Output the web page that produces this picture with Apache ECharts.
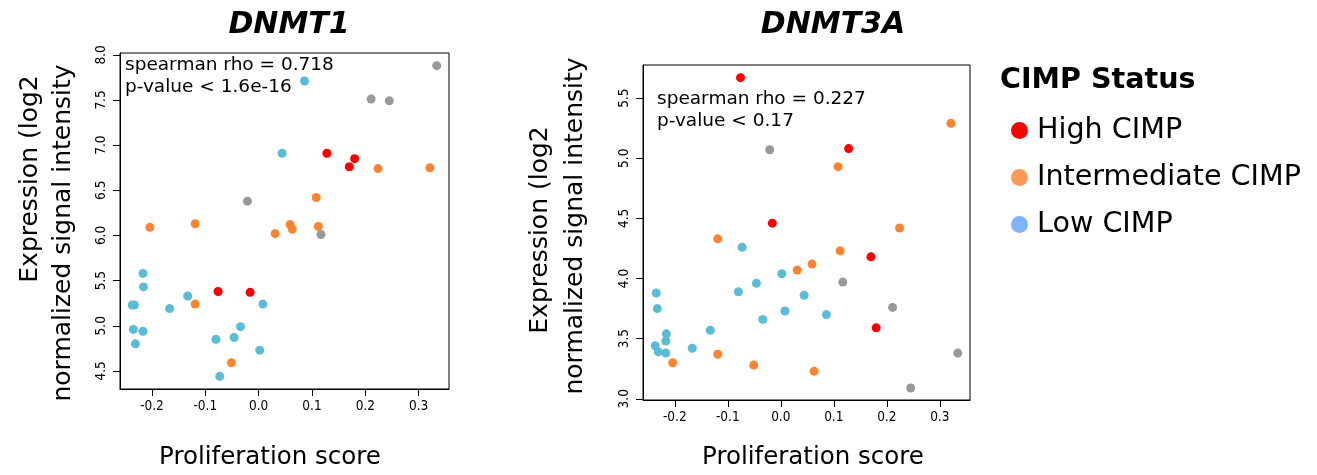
<!DOCTYPE html>
<html>
<head>
<meta charset="utf-8">
<script src="https://cdn.jsdelivr.net/npm/echarts@6/dist/echarts.min.js"></script>
<style>html,body{margin:0;padding:0;background:#fff;}#chart{width:1317px;height:475px;}</style>
</head>
<body>
<div id="chart"></div>
<script>
// ---- data ----
const panelTitles = ['DNMT1', 'DNMT3A'];
const statsDNMT1 = ['spearman rho = 0.718', 'p-value < 1.6e-16'];
const statsDNMT3A = ['spearman rho = 0.227', 'p-value < 0.17'];
const xTicks = [-0.2, -0.1, 0.0, 0.1, 0.2, 0.3];
const yTicksDNMT1 = [4.5, 5.0, 5.5, 6.0, 6.5, 7.0, 7.5, 8.0];
const yTicksDNMT3A = [3.0, 3.5, 4.0, 4.5, 5.0, 5.5];
const groupNames = ['High CIMP', 'Intermediate CIMP', 'Low CIMP'];

const highX      = [-0.076, -0.016, 0.128, 0.170, 0.180];
const highDNMT1  = [5.38, 5.37, 6.91, 6.76, 6.85];
const highDNMT3A = [5.67, 4.46, 5.08, 4.18, 3.59];

const intX      = [-0.204, -0.119, -0.119, -0.051, 0.031, 0.059, 0.063, 0.108, 0.112, 0.224, 0.321];
const intDNMT1  = [6.09, 6.13, 5.24, 4.59, 6.02, 6.12, 6.07, 6.42, 6.10, 6.74, 6.75];
const intDNMT3A = [3.30, 4.33, 3.37, 3.28, 4.07, 4.12, 3.23, 4.93, 4.23, 4.42, 5.29];

const lowX      = [-0.237, -0.235, -0.233, -0.231, -0.217, -0.217, -0.216, -0.167, -0.133, -0.080, -0.073, -0.046, -0.034, 0.002, 0.008, 0.044, 0.086];
const lowDNMT1  = [5.23, 4.96, 5.23, 4.80, 4.94, 5.58, 5.43, 5.19, 5.33, 4.85, 4.44, 4.87, 4.99, 4.73, 5.24, 6.91, 7.71];
const lowDNMT3A = [3.44, 3.88, 3.75, 3.39, 3.48, 3.38, 3.54, 3.42, 3.57, 3.89, 4.26, 3.96, 3.66, 4.04, 3.73, 3.86, 3.70];

const naX      = [-0.021, 0.117, 0.211, 0.245, 0.334];
const naDNMT1  = [6.38, 6.01, 7.51, 7.49, 7.88];
const naDNMT3A = [5.07, 3.97, 3.76, 3.09, 3.38];

// ---- styling ----
const pointColors = {high: '#FF0000', int: '#FC8431', low: '#5BBCD6', na: '#999999'};
const legendColors = ['#FF0000', '#FF9955', '#80B3FF'];
const tickFont = "'Liberation Sans Narrow', 'DejaVu Sans Condensed', sans-serif";
const mainFont = "'DejaVu Sans', sans-serif";

function zip(xs, ys) { return xs.map((x, i) => [x, ys[i]]); }

function xAxisFor(gi) {
  return {
    gridIndex: gi, type: 'value', min: -0.26, max: 0.357,
    axisLine: {show: true, onZero: false, lineStyle: {color: '#000', width: 1}},
    axisTick: {show: true, length: 7, lineStyle: {color: '#000'}, customValues: xTicks},
    axisLabel: {customValues: xTicks, margin: 10, color: '#000', fontSize: 13.5, fontFamily: tickFont,
      formatter: v => v.toFixed(1)},
    splitLine: {show: false}
  };
}
function yAxisFor(gi, min, max, ticks) {
  return {
    gridIndex: gi, type: 'value', min: min, max: max,
    axisLine: {show: true, onZero: false, lineStyle: {color: '#000', width: 1}},
    axisTick: {show: true, length: 7, lineStyle: {color: '#000'}, customValues: ticks},
    axisLabel: {customValues: ticks, rotate: 90, margin: 12, color: '#000', fontSize: 13.5, fontFamily: tickFont,
      formatter: v => v.toFixed(1)},
    splitLine: {show: false}
  };
}
function sc(name, gi, xs, ys, color) {
  return {
    name: name, type: 'scatter', xAxisIndex: gi, yAxisIndex: gi,
    data: zip(xs, ys), symbolSize: 9, itemStyle: {color: color, opacity: 1},
    emphasis: {disabled: true}, silent: true
  };
}
function txt(x, y, s, opt) {
  return Object.assign({type: 'text', x: x, y: y, silent: true,
    style: Object.assign({text: s, fill: '#000', fontFamily: mainFont}, opt.style || {})},
    opt.rotation !== undefined ? {rotation: opt.rotation} : {});
}

const chart = echarts.init(document.getElementById('chart'), null, {renderer: 'canvas'});
const option = {
  animation: false,
  backgroundColor: '#fff',
  title: [
    {text: panelTitles[0], left: 284, top: 5, textAlign: 'center',
      textStyle: {fontFamily: mainFont, fontSize: 30, fontWeight: 'bold', fontStyle: 'italic', color: '#000'}},
    {text: panelTitles[1], left: 828, top: 5, textAlign: 'center',
      textStyle: {fontFamily: mainFont, fontSize: 30, fontWeight: 'bold', fontStyle: 'italic', color: '#000'}},
    {text: 'CIMP Status', left: 995, top: 61,
      textStyle: {fontFamily: mainFont, fontSize: 28.6, fontWeight: 'bold', color: '#000'}}
  ],
  legend: {
    orient: 'vertical', left: 1006, top: 111, itemGap: 18, selectedMode: false,
    icon: 'circle', itemWidth: 17, itemHeight: 17,
    textStyle: {fontFamily: mainFont, fontSize: 28.6, color: '#000', padding: [0, 0, 0, 4]},
    data: groupNames.map((n, i) => ({name: n, itemStyle: {color: legendColors[i]}}))
  },
  grid: [
    {left: 120, top: 53, width: 329, height: 336, show: true, borderColor: '#000', borderWidth: 1, backgroundColor: 'transparent'},
    {left: 643, top: 65, width: 327, height: 335, show: true, borderColor: '#000', borderWidth: 1, backgroundColor: 'transparent'}
  ],
  xAxis: [xAxisFor(0), xAxisFor(1)],
  yAxis: [yAxisFor(0, 4.30, 8.02, yTicksDNMT1), yAxisFor(1, 2.99, 5.775, yTicksDNMT3A)],
  series: [
    sc('Other', 0, naX, naDNMT1, pointColors.na),
    sc(groupNames[1], 0, intX, intDNMT1, pointColors.int),
    sc(groupNames[2], 0, lowX, lowDNMT1, pointColors.low),
    sc(groupNames[0], 0, highX, highDNMT1, pointColors.high),
    sc('Other', 1, naX, naDNMT3A, pointColors.na),
    sc(groupNames[1], 1, intX, intDNMT3A, pointColors.int),
    sc(groupNames[2], 1, lowX, lowDNMT3A, pointColors.low),
    sc(groupNames[0], 1, highX, highDNMT3A, pointColors.high)
  ],
  graphic: [
    txt(125, 54, statsDNMT1.join('\n'), {style: {fontSize: 18.5, lineHeight: 22}}),
    txt(657, 88, statsDNMT3A.join('\n'), {style: {fontSize: 18.5, lineHeight: 22}}),
    txt(270, 458, 'Proliferation score', {style: {fontSize: 24.5, align: 'center', verticalAlign: 'middle'}}),
    txt(813, 458, 'Proliferation score', {style: {fontSize: 24.5, align: 'center', verticalAlign: 'middle'}}),
    txt(30, 179, 'Expression (log2', {rotation: Math.PI / 2, style: {fontSize: 25, align: 'center', verticalAlign: 'middle'}}),
    txt(63, 233, 'normalized signal intensity', {rotation: Math.PI / 2, style: {fontSize: 25, align: 'center', verticalAlign: 'middle'}}),
    txt(540, 230, 'Expression (log2', {rotation: Math.PI / 2, style: {fontSize: 25, align: 'center', verticalAlign: 'middle'}}),
    txt(575, 226, 'normalized signal intensity', {rotation: Math.PI / 2, style: {fontSize: 25, align: 'center', verticalAlign: 'middle'}})
  ]
};
chart.setOption(option);
</script>
</body>
</html>
